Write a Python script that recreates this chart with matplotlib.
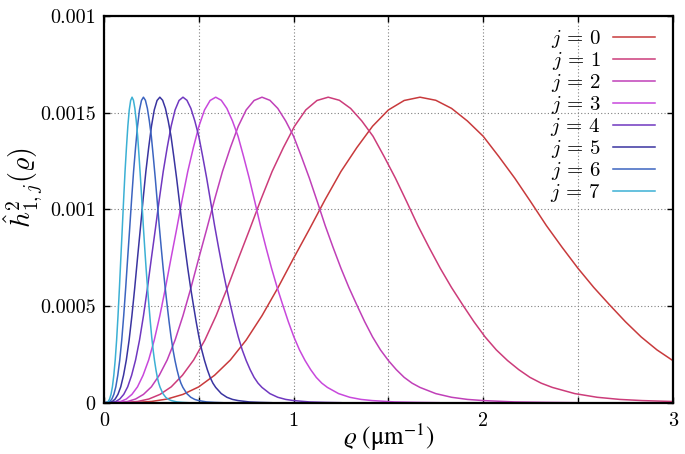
import matplotlib
matplotlib.use('Agg')
import matplotlib.pyplot as plt

# Values.
# Every curve has the same profile, only stretched along rho:
# rho_peak is where each curve tops out, u_read is rho / rho_peak and
# h2_read the height read at that point.
rho_peak = [1.666, 1.182, 0.833, 0.589, 0.4165, 0.2945, 0.208, 0.148]

u_read = [0, 0.05, 0.1, 0.15, 0.2, 0.25, 0.3, 0.35, 0.4, 0.45, 0.5, 0.55,
          0.6, 0.65, 0.7, 0.75, 0.8, 0.85, 0.9, 0.95, 1.0, 1.05, 1.1, 1.15,
          1.2, 1.25, 1.3, 1.35, 1.4, 1.45, 1.5, 1.55, 1.6, 1.65, 1.7, 1.75,
          1.8, 1.85, 1.9, 1.95, 2.0, 2.1, 2.2, 2.3, 2.4, 2.6, 2.8, 3.0]
h2_read = [0, 0.0000005, 0.0000016, 0.0000063, 0.000019, 0.000043,
           0.000082, 0.000142, 0.000221, 0.000324, 0.000450, 0.000593,
           0.000747, 0.000897, 0.001051, 0.001196, 0.001319, 0.00143,
           0.001514, 0.001563, 0.00158, 0.001564, 0.001522, 0.001457,
           0.001378, 0.001272, 0.001161, 0.00104, 0.000916, 0.000803,
           0.000695, 0.000596, 0.000506, 0.000419, 0.00034, 0.000273,
           0.000218, 0.000171, 0.000131, 0.000101, 0.000079, 0.000047,
           0.000028, 0.000017, 0.000011, 0.000004, 0.0000016, 0]

curve_labels = ['$j\\,=\\,%d$' % j for j in range(8)]

xtick_vals = [0, 0.5, 1, 1.5, 2, 2.5, 3]
xtick_text = ['0', '', '1', '', '2', '', '3']
ytick_vals = [0, 0.0005, 0.001, 0.0015, 0.002]
ytick_text = ['0', '0.0005', '0.001', '0.0015', '0.001']

colors = ['#c83a3c', '#cc3c7a', '#c040b8', '#c848dc',
          '#7038c0', '#3a34a0', '#3c64c0', '#3cb0d4']

plt.rcParams['font.family'] = ['cmr10', 'DejaVu Serif']
plt.rcParams['mathtext.fontset'] = 'cm'
plt.rcParams['axes.unicode_minus'] = False

fig = plt.figure(figsize=(6.85, 4.54), dpi=100)
ax = fig.add_axes([0.1518, 0.113, 0.8307, 0.8518])

for peak, lab, col in zip(rho_peak, curve_labels, colors):
    rho = [peak * u for u in u_read]
    ax.plot(rho, h2_read, color=col, lw=1.1, label=lab)

ax.set_xlim(0, 3)
ax.set_ylim(0, 0.002)
ax.set_xticks(xtick_vals)
ax.set_xticklabels(xtick_text)
ax.set_yticks(ytick_vals)
ax.set_yticklabels(ytick_text)

ax.grid(True, color='#808080', linestyle=(0, (1, 2)), linewidth=0.8)
ax.set_axisbelow(True)
for s in ax.spines.values():
    s.set_linewidth(1.6)
ax.tick_params(direction='in', top=True, right=True, length=4, width=1,
               labelsize=14.5)
ax.tick_params(axis='x', pad=7)
ax.tick_params(axis='y', pad=6)

ax.set_xlabel(r'$\varrho\ (\mathrm{\mu m}^{-1})$', fontsize=18,
              labelpad=-6, math_fontfamily='stix')
ax.set_ylabel(r'$\hat{h}^2_{1,j}(\varrho)$', fontsize=20)
ax.yaxis.set_label_coords(-0.105, 0.555)

ax.legend(loc='upper right', bbox_to_anchor=(0.99, 1.0), frameon=False,
          markerfirst=False, fontsize=15, handlelength=2.0,
          handletextpad=0.6, labelspacing=0.0, borderaxespad=0.2)

fig.savefig('out.png', dpi=100, facecolor='white')
